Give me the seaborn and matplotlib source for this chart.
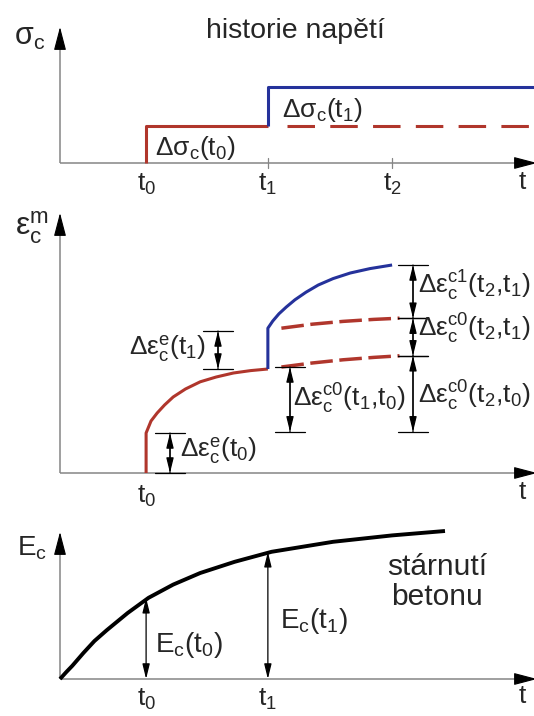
import matplotlib
matplotlib.use("Agg")
import matplotlib.pyplot as plt
import seaborn as sns
import pandas as pd

sns.set_theme(style="white")
plt.rcParams["font.family"] = ["Liberation Sans", "DejaVu Sans"]
plt.rcParams["mathtext.fontset"] = "custom"
plt.rcParams["mathtext.rm"] = "Liberation Sans"
plt.rcParams["mathtext.it"] = "Liberation Sans"

# ---------------- data ----------------
t_marks = [0.70, 1.69, 2.70]                    # t0, t1, t2
t_end = 4.00
top_tick_labels = ["t$_\\mathregular{0}$", "t$_\\mathregular{1}$", "t$_\\mathregular{2}$"]

# stress history
dsig = [1.00, 1.05]                             # Δσc(t0), Δσc(t1)

# strain history
red_t = [0.70, 0.70, 0.74, 0.79, 0.85, 0.92, 1.02, 1.14, 1.27, 1.41, 1.55, 1.69]
red_e = [0.00, 1.00, 1.30, 1.50, 1.70, 1.90, 2.10, 2.28, 2.40, 2.50, 2.56, 2.60]
blue_t = [1.69, 1.69, 1.73, 1.78, 1.84, 1.91, 2.00, 2.10, 2.22, 2.36, 2.52, 2.70]
blue_e = [2.60, 3.62, 3.80, 3.98, 4.15, 4.33, 4.52, 4.70, 4.86, 5.00, 5.11, 5.20]
dash_lo_t = [1.80, 2.05, 2.30, 2.55, 2.76]
dash_lo_e = [2.65, 2.75, 2.83, 2.89, 2.93]
dash_hi_t = [1.80, 2.05, 2.30, 2.55, 2.76]
dash_hi_e = [3.62, 3.72, 3.79, 3.84, 3.87]

# modulus ageing curve
E_t = [0.00, 0.05, 0.10, 0.19, 0.28, 0.38, 0.55, 0.72, 0.92, 1.14, 1.42, 1.72, 2.22, 2.70, 3.13]
E_v = [0.00, 0.17, 0.33, 0.65, 0.95, 1.22, 1.65, 2.03, 2.36, 2.65, 2.93, 3.18, 3.43, 3.59, 3.70]

RED = "#b0362c"
BLUE = "#25329b"
GREY = "#858585"

# ---------------- figure ----------------
W, H = 534, 716
X0, XS = 60, 123
fig = plt.figure(figsize=(W / 100, H / 100), dpi=100)


def panel(top, bot, y0, ys):
    ax = fig.add_axes([0, 1 - bot / H, 1, (bot - top) / H])
    ax.set_xlim((0 - X0) / XS, (W - X0) / XS)
    ax.set_ylim((y0 - bot) / ys, (y0 - top) / ys)
    ax.set_axis_off()
    return ax, (lambda px: (px - X0) / XS), (lambda py: (y0 - py) / ys)


def axis_arrows(ax, ytip, xtip, hx, hy):
    ax.plot([0, 0], [0, ytip - hy], color=GREY, lw=1.1, solid_capstyle="butt")
    ax.plot([0, xtip - hx], [0, 0], color=GREY, lw=1.1, solid_capstyle="butt")
    for xy, xytext in (((0, ytip), (0, ytip - hy)), ((xtip, 0), (xtip - hx, 0))):
        ax.annotate("", xy=xy, xytext=xytext, annotation_clip=False,
                    arrowprops=dict(arrowstyle="-|>,head_length=1.45,head_width=0.38",
                                    mutation_scale=10, lw=0.8, color="black",
                                    shrinkA=0, shrinkB=0))


def dim(ax, x, y1, y2, caps=True):
    ax.annotate("", xy=(x, y2), xytext=(x, y1),
                arrowprops=dict(arrowstyle="<|-|>,head_length=0.9,head_width=0.22",
                                mutation_scale=10, lw=0.9, color="black",
                                shrinkA=0, shrinkB=0))
    if caps:
        ax.annotate("", xy=(x, y2), xytext=(x, y1),
                    arrowprops=dict(arrowstyle="|-|,widthA=0.55,widthB=0.55",
                                    mutation_scale=20, lw=0.9, color="black",
                                    shrinkA=0, shrinkB=0))


def line(ax, t, v, color, lw, dashes=None):
    df = pd.DataFrame({"t": t, "v": v})
    sns.lineplot(data=df, x="t", y="v", ax=ax, sort=False, estimator=None,
                 color=color, lw=lw, legend=False)
    ln = ax.lines[-1]
    ln.set_solid_capstyle("butt")
    ln.set_solid_joinstyle("round")
    if dashes:
        ln.set_dashes(dashes)
        ln.set_dash_capstyle("butt")


ax_t, fx, fy_t = panel(0, 190, 163, 37)
ax_m, _, fy_m = panel(190, 490, 473, 40)
ax_b, _, fy_b = panel(490, 716, 679, 40)

sub = lambda s: "$_\\mathregular{%s}$" % s
LBL = 19
TCK = 19
HX = 20 / XS   # arrow-head length in x data units

# ---------------- top: stress history ----------------
axis_arrows(ax_t, fy_t(27), fx(537), HX, 20 / 37)
line(ax_t, [t_marks[0], t_marks[0], t_marks[1]], [0, dsig[0], dsig[0]], RED, 2.2)
line(ax_t, [t_marks[1] + 0.155, t_end], [dsig[0], dsig[0]], RED, 2.2, dashes=(9, 5))
line(ax_t, [t_marks[1], t_marks[1], t_end], [dsig[0], dsig[0] + dsig[1], dsig[0] + dsig[1]], BLUE, 2.2)
for tm in t_marks[1:]:
    ax_t.plot([tm, tm], [fy_t(158), fy_t(168)], color=GREY, lw=0.9)
for tm, lab in zip(t_marks, top_tick_labels):
    ax_t.text(tm, fy_t(184), lab, ha="center", va="center", fontsize=TCK)
ax_t.text(fx(522), fy_t(182), "t", ha="center", va="center", fontsize=TCK)
ax_t.text(fx(30), fy_t(37), "σ" + sub("c"), ha="center", va="center", fontsize=22)
ax_t.text(fx(295), fy_t(31), "historie napětí", ha="center", va="center", fontsize=20.5)
ax_t.text(fx(155), fy_t(148), "Δσ" + sub("c") + "(t" + sub("0") + ")",
          ha="left", va="center", fontsize=LBL)
ax_t.text(fx(282), fy_t(110), "Δσ" + sub("c") + "(t" + sub("1") + ")",
          ha="left", va="center", fontsize=LBL)

# ---------------- middle: strain ----------------
axis_arrows(ax_m, fy_m(213), fx(537), HX, 20 / 40)
line(ax_m, red_t, red_e, RED, 2.2)
line(ax_m, blue_t, blue_e, BLUE, 2.2)
line(ax_m, dash_lo_t, dash_lo_e, RED, 2.5, dashes=(6.5, 1.9))
line(ax_m, dash_hi_t, dash_hi_e, RED, 2.5, dashes=(6.5, 1.9))

dim(ax_m, fx(170), 0, red_e[1])
dim(ax_m, fx(218), red_e[-1], blue_e[1] - 0.07)
dim(ax_m, fx(290), dash_lo_e[0], 1.03)
dim(ax_m, fx(413), dash_lo_e[-1], 1.03)
dim(ax_m, fx(413), dash_hi_e[-1], dash_lo_e[-1])
dim(ax_m, fx(413), blue_e[-1], dash_hi_e[-1])

eps_e = "Δε$^\\mathregular{e}_\\mathregular{c}$"
eps_c0 = "Δε$^\\mathregular{c0}_\\mathregular{c}$"
eps_c1 = "Δε$^\\mathregular{c1}_\\mathregular{c}$"
ax_m.text(fx(180), fy_m(451), eps_e + "(t" + sub("0") + ")", ha="left", va="center", fontsize=LBL)
ax_m.text(fx(206), fy_m(349), eps_e + "(t" + sub("1") + ")", ha="right", va="center", fontsize=LBL)
ax_m.text(fx(293), fy_m(399), eps_c0 + "(t" + sub("1") + ",t" + sub("0") + ")",
          ha="left", va="center", fontsize=LBL)
ax_m.text(fx(418), fy_m(286), eps_c1 + "(t" + sub("2") + ",t" + sub("1") + ")",
          ha="left", va="center", fontsize=LBL)
ax_m.text(fx(418), fy_m(329), eps_c0 + "(t" + sub("2") + ",t" + sub("1") + ")",
          ha="left", va="center", fontsize=LBL)
ax_m.text(fx(418), fy_m(396), eps_c0 + "(t" + sub("2") + ",t" + sub("0") + ")",
          ha="left", va="center", fontsize=LBL)
ax_m.text(t_marks[0], fy_m(496), top_tick_labels[0], ha="center", va="center", fontsize=TCK)
ax_m.text(fx(522), fy_m(492), "t", ha="center", va="center", fontsize=TCK)
ax_m.text(fx(32), fy_m(228), "ε$^\\mathregular{m}_\\mathregular{c}$", ha="center", va="center", fontsize=23)

# ---------------- bottom: modulus ----------------
axis_arrows(ax_b, fy_b(532), fx(537), HX, 20 / 40)
line(ax_b, E_t, E_v, "black", 2.8)
E_t0 = E_v[7]
E_t1 = E_v[11]
dim(ax_b, t_marks[0], 0, E_t0, caps=False)
dim(ax_b, t_marks[1], 0, E_t1, caps=False)
ax_b.text(fx(155), fy_b(645), "E" + sub("c") + "(t" + sub("0") + ")", ha="left", va="center", fontsize=20)
ax_b.text(fx(280), fy_b(621), "E" + sub("c") + "(t" + sub("1") + ")", ha="left", va="center", fontsize=20)
ax_b.text(fx(437), fy_b(582), "stárnutí\nbetonu", ha="center", va="center", fontsize=21.5,
          linespacing=1.05)
ax_b.text(t_marks[0], fy_b(699), top_tick_labels[0], ha="center", va="center", fontsize=TCK)
ax_b.text(t_marks[1], fy_b(699), top_tick_labels[1], ha="center", va="center", fontsize=TCK)
ax_b.text(fx(522), fy_b(696), "t", ha="center", va="center", fontsize=TCK)
ax_b.text(fx(32), fy_b(548), "E" + sub("c"), ha="center", va="center", fontsize=20)

for a in (ax_t, ax_m, ax_b):
    a.set_xlabel("")
    a.set_ylabel("")

fig.savefig("out.png", dpi=100)
